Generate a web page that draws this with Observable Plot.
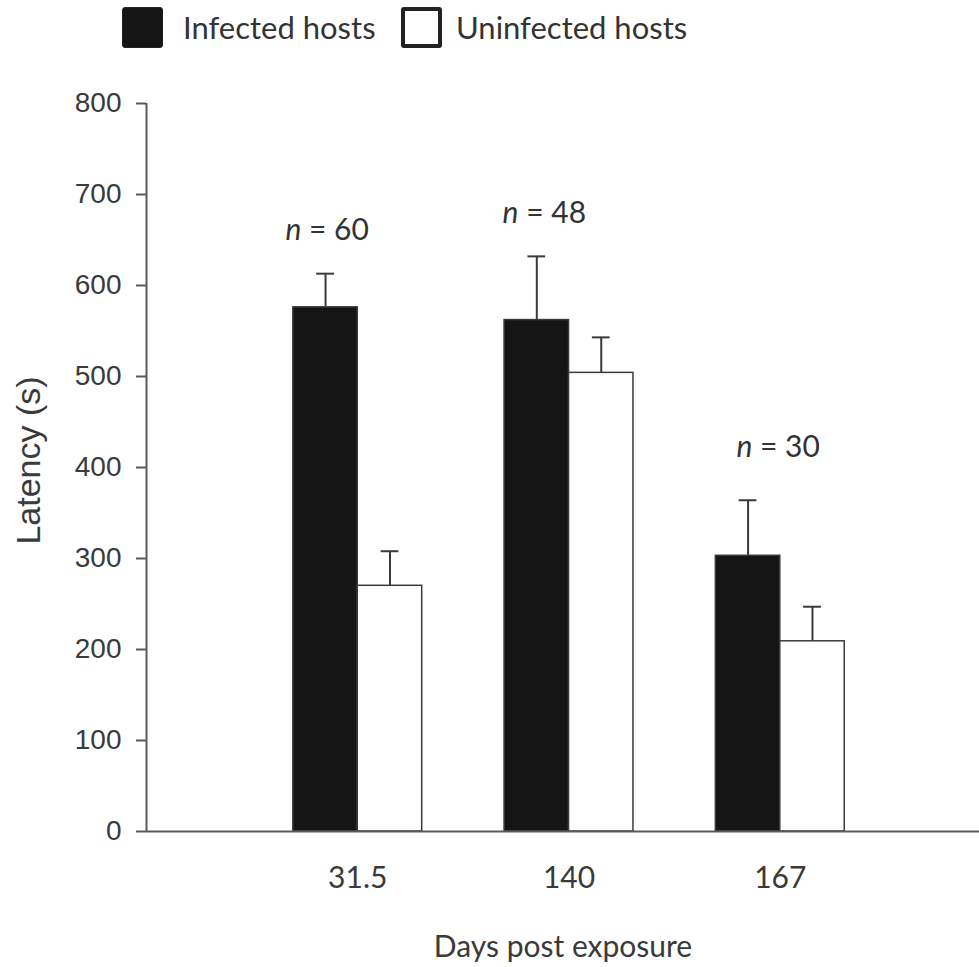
<!DOCTYPE html>
<html>
<head>
<meta charset="utf-8">
<script src="https://cdn.jsdelivr.net/npm/d3@7"></script>
<script src="https://cdn.jsdelivr.net/npm/@observablehq/plot@0.6"></script>
<style>
  body { margin: 0; background: #fff; }
  #legend { position: relative; width: 979px; height: 56px; font-family: Lato, sans-serif; font-size: 31px; color: #333; }
  #legend .sw { position: absolute; top: 7px; width: 41px; height: 41px; box-sizing: border-box; border-radius: 3px; }
  #legend .lab { position: absolute; top: 27px; transform: translateY(-50%); line-height: 1; white-space: nowrap; }
  #chart svg { display: block; }
</style>
</head>
<body>
<div id="legend"></div>
<div id="chart"></div>
<script>
// Days post exposure (x groups)
const days = ["31.5", "140", "167"];
// Mean latency (s) and standard error for each group
const infectedMean = [576, 562, 303];
const infectedSE = [37, 70, 61];
const uninfectedMean = [270, 504, 209];
const uninfectedSE = [38, 39, 38];
// Sample size per group
const sampleSizes = [60, 48, 30];
// Series and y ticks
const seriesNames = ["Infected hosts", "Uninfected hosts"];
const seriesFill = ["#151515", "#ffffff"];
const yTicks = [0, 100, 200, 300, 400, 500, 600, 700, 800];

// Layout (in group units along x)
const BAR = 0.305;   // bar width
const CAP = 0.042;   // half width of error bar cap
const nLabelX = [0.855, 1.883, 2.99];
const nLabelY = [661, 679, 422];

// Build bar rows: group g sits at x = g (1-based)
const rows = [];
days.forEach((day, i) => {
  const g = i + 1;
  rows.push({day, series: seriesNames[0], mean: infectedMean[i], se: infectedSE[i], x1: g - BAR, x2: g});
  rows.push({day, series: seriesNames[1], mean: uninfectedMean[i], se: uninfectedSE[i], x1: g, x2: g + BAR});
});
rows.forEach(d => { d.cx = (d.x1 + d.x2) / 2; d.top = d.mean + d.se; });
const fillOf = d => seriesFill[seriesNames.indexOf(d.series)];

const nRows = sampleSizes.map((n, i) => ({n, x: nLabelX[i], y: nLabelY[i]}));

// Legend
const legend = document.getElementById("legend");
const swX = [122, 401], labX = [183, 456];
seriesNames.forEach((name, i) => {
  const sw = document.createElement("div");
  sw.className = "sw";
  sw.style.left = swX[i] + "px";
  sw.style.background = seriesFill[i];
  sw.style.border = i === 0 ? "1px solid #222" : "4px solid #222";
  legend.appendChild(sw);
  const lab = document.createElement("div");
  lab.className = "lab";
  lab.style.left = labX[i] + "px";
  lab.textContent = name;
  legend.appendChild(lab);
});

const chart = Plot.plot({
  width: 979,
  height: 911,
  marginLeft: 146,
  marginRight: 0,
  marginTop: 47,
  marginBottom: 136,
  style: {background: "#fff", color: "#3a3a3a"},
  x: {domain: [0, 3.943]},
  y: {domain: [0, 800]},
  marks: [
    Plot.rectY(rows, {x1: "x1", x2: "x2", y1: 0, y2: "mean", fill: fillOf, stroke: "#3a3a3a", strokeWidth: 1.5}),
    Plot.ruleX(rows, {x: "cx", y1: "mean", y2: "top", stroke: "#3a3a3a", strokeWidth: 2}),
    Plot.ruleY(rows, {y: "top", x1: d => d.cx - CAP, x2: d => d.cx + CAP, stroke: "#3a3a3a", strokeWidth: 2}),
    Plot.ruleY([0], {stroke: "#5a5a5a", strokeWidth: 2}),
    Plot.ruleX([0], {y1: 0, y2: 800, stroke: "#5a5a5a", strokeWidth: 2}),
    Plot.axisY({ticks: yTicks, tickSize: 10, tickPadding: 15, stroke: "#5a5a5a", strokeWidth: 2,
      fontSize: 28, fontFamily: "Liberation Sans, Arial, sans-serif", label: null}),
    Plot.text(["Latency (s)"], {frameAnchor: "left", textAnchor: "middle", rotate: -90, dx: -117, dy: -7,
      fontSize: 34, fontFamily: "Liberation Sans, Arial, sans-serif", fill: "#3a3a3a"}),
    Plot.axisX({ticks: [1, 2, 3], tickFormat: d => days[d - 1], tickSize: 0, tickPadding: 35,
      fontSize: 30, fontFamily: "Lato, sans-serif", label: "Days post exposure", labelAnchor: "center",
      labelOffset: 125, labelArrow: "none"}),
    Plot.text(nRows, {x: "x", y: "y", text: d => `n = ${d.n}`, fontSize: 30, fontFamily: "Lato, sans-serif",
      fill: "#333", lineAnchor: "middle"})
  ]
});

// Italicise the "n" in the sample-size labels
d3.select(chart).selectAll("text")
  .filter(function () { return /^n = \d+$/.test(this.textContent); })
  .each(function () {
    const rest = this.textContent.slice(1);
    this.textContent = "";
    d3.select(this).append("tspan").attr("font-style", "italic").text("n");
    d3.select(this).append("tspan").text(rest);
  });

document.getElementById("chart").appendChild(chart);
</script>
</body>
</html>
